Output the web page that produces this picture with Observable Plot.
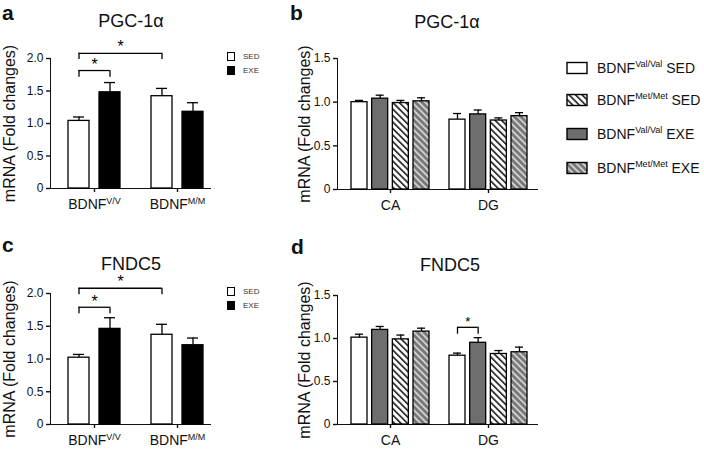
<!DOCTYPE html>
<html><head><meta charset="utf-8">
<script src="https://cdn.jsdelivr.net/npm/d3@7"></script>
<script src="https://cdn.jsdelivr.net/npm/@observablehq/plot@0.6"></script>
<style>
body{margin:0;background:#fff;}
#fig{position:relative;width:704px;height:450px;font-family:"Liberation Sans",Arial,sans-serif;color:#111;overflow:hidden;background:#fff}
.abs{position:absolute;white-space:nowrap}
.title{font-size:18px;text-align:center;width:140px;line-height:18px}
.letter{font-size:21px;font-weight:bold;line-height:21px}
.mini{font-size:8px;color:#333;line-height:8px}
.leg{font-size:14px;line-height:14px;color:#111}
.leg sup{font-size:9px;vertical-align:6px;line-height:0}
#fig svg.plot{position:absolute;overflow:visible}
#fig svg.plot g[aria-label="y-axis label"] text{font-size:16px}
#fig svg.plot g[aria-label="x-axis tick label"] text{font-size:14px}
#fig svg.plot g[aria-label*="axis"] path,#fig svg.plot g[aria-label*="axis"] line{stroke-width:1.4}
</style></head><body><div id="fig"></div>
<script>
// ---------- data ----------
const genotypes = ["V/V", "M/M"];                 // panels a, c categories (BDNF genotype)
const regions = ["CA", "DG"];                     // panels b, d categories
const yTicksA = [0, 0.5, 1.0, 1.5, 2.0];
const yTicksB = [0, 0.5, 1.0, 1.5];

// panel a: PGC-1α by genotype
const pgcA_SED = [1.04, 1.42];
const pgcA_SED_err = [0.06, 0.12];
const pgcA_EXE = [1.48, 1.18];
const pgcA_EXE_err = [0.15, 0.14];
// panel c: FNDC5 by genotype
const fndcA_SED = [1.02, 1.37];
const fndcA_SED_err = [0.05, 0.16];
const fndcA_EXE = [1.46, 1.21];
const fndcA_EXE_err = [0.17, 0.11];

// panel b: PGC-1α by region (CA, DG)
const pgcB_ValSED = [1.00, 0.80];
const pgcB_ValSED_err = [0.02, 0.07];
const pgcB_ValEXE = [1.04, 0.86];
const pgcB_ValEXE_err = [0.04, 0.05];
const pgcB_MetSED = [0.99, 0.79];
const pgcB_MetSED_err = [0.03, 0.03];
const pgcB_MetEXE = [1.01, 0.84];
const pgcB_MetEXE_err = [0.04, 0.04];
// panel d: FNDC5 by region
const fndcB_ValSED = [1.01, 0.80];
const fndcB_ValSED_err = [0.04, 0.03];
const fndcB_ValEXE = [1.10, 0.95];
const fndcB_ValEXE_err = [0.04, 0.06];
const fndcB_MetSED = [0.99, 0.82];
const fndcB_MetSED_err = [0.05, 0.04];
const fndcB_MetEXE = [1.08, 0.84];
const fndcB_MetEXE_err = [0.04, 0.06];

// significance brackets: [category1, bar1, category2, bar2, legBottom, top, starY]
const sigA = [["V/V", 0, "V/V", 1, 1.71, 1.815, 1.90], ["V/V", 0, "M/M", 0, 1.985, 2.08, 2.18]];
const sigC = [["V/V", 0, "V/V", 1, 1.69, 1.79, 1.87], ["V/V", 0, "M/M", 0, 1.98, 2.08, 2.17]];
const sigD = [["DG", 0, "DG", 1, 1.05, 1.13, 1.19]];

const legendLabels = [["Val/Val", "SED"], ["Met/Met", "SED"], ["Val/Val", "EXE"], ["Met/Met", "EXE"]];
const miniLegend = ["SED", "EXE"];

// ---------- styles ----------
const FONT = '"Liberation Sans", Arial, sans-serif';
const DARK = "#6e6e6e";
const fig = document.getElementById("fig");

// hatch patterns
const defs = d3.select(fig).append("svg").attr("width", 0).attr("height", 0)
  .style("position", "absolute").append("defs");
function hatch(id, bg, fg, sw) {
  const P = 4.6;
  const p = defs.append("pattern").attr("id", id).attr("patternUnits", "userSpaceOnUse")
    .attr("width", P).attr("height", P).attr("patternTransform", "rotate(-45)");
  p.append("rect").attr("width", P).attr("height", P).attr("fill", bg);
  p.append("rect").attr("width", sw).attr("height", P).attr("fill", fg);
}
hatch("hatchW", "#ffffff", "#1a1a1a", 1.6);
hatch("hatchG", "#767676", "#cfcfcf", 1.9);

function panel(cfg) {
  const {cats, series, geom, brackets} = cfg;
  const n = series.length;
  const gap = (geom.W - n * geom.bw) / (n - 1);
  const step = geom.bw + gap;
  const center = k => k * step + geom.bw / 2;
  const R = cfg.width - cfg.marginLeft - cfg.marginRight;
  const outerTotal = R - (cats.length * geom.S - (geom.S - geom.W));
  const marks = [];
  series.forEach((s, k) => {
    const rows = cats.map((c, i) => ({cat: c, value: s.values[i], top: s.values[i] + s.errs[i]}));
    marks.push(Plot.ruleX(rows, {x: "cat", y1: "value", y2: "top", dx: center(k) - geom.W / 2, stroke: "#000", strokeWidth: 1.3}));
    marks.push(Plot.barY(rows, {x: "cat", y: "value", insetLeft: k * step, insetRight: (n - 1 - k) * step, fill: s.fill, stroke: "#000", strokeWidth: 1.3}));
    marks.push(Plot.tickY(rows, {x: "cat", y: "top", insetLeft: center(k) - geom.cap / 2, insetRight: geom.W - center(k) - geom.cap / 2, stroke: "#000", strokeWidth: 1.3}));
  });
  (brackets || []).forEach(b => {
    const [c1, k1, c2, k2, yLeg, yTop, yStar] = b;
    const d = [{c1, c2, yLeg, yTop, yStar}];
    const x2off = (cats.indexOf(c2) - cats.indexOf(c1)) * geom.S + center(k2);
    marks.push(Plot.ruleY(d, {x1: "c1", x2: "c2", y: "yTop", insetLeft: center(k1), insetRight: geom.W - center(k2), stroke: "#000", strokeWidth: 1.3}));
    marks.push(Plot.ruleX(d, {x: "c1", y1: "yLeg", y2: "yTop", dx: center(k1) - geom.W / 2, stroke: "#000", strokeWidth: 1.3}));
    marks.push(Plot.ruleX(d, {x: "c2", y1: "yLeg", y2: "yTop", dx: center(k2) - geom.W / 2, stroke: "#000", strokeWidth: 1.3}));
    marks.push(Plot.text(d, {x: "c1", y: "yStar", text: () => "*", dx: (center(k1) + x2off) / 2 - geom.W / 2, fontSize: cfg.starSize, fill: "#000"}));
  });
  const svg = Plot.plot({
    width: cfg.width, height: cfg.height,
    marginLeft: cfg.marginLeft, marginRight: cfg.marginRight, marginTop: cfg.marginTop, marginBottom: cfg.marginBottom,
    style: {fontFamily: FONT, fontSize: "12px", color: "#111", background: "transparent", overflow: "visible"},
    x: {type: "band", domain: cats, paddingInner: (geom.S - geom.W) / geom.S, paddingOuter: outerTotal / 2 / geom.S,
        align: geom.L / outerTotal, round: false, tickSize: 4, tickPadding: 7, label: null, line: true,
        tickFormat: cfg.xfmt},
    y: {domain: cfg.yDomain, ticks: cfg.yTicks, tickFormat: d => d === 0 ? "0" : d.toFixed(1), tickSize: 4, tickPadding: 3,
        line: true, label: "mRNA (Fold changes)", labelAnchor: "center", labelArrow: "none", labelOffset: cfg.labelOffset},
    marks
  });
  svg.classList.add("plot");
  svg.style.left = cfg.left + "px";
  svg.style.top = cfg.top + "px";
  fig.appendChild(svg);
  // remove any stray arrow-only label text
  svg.querySelectorAll("text").forEach(t => { if (t.textContent.trim() === "↑") t.remove(); });
  // superscripts in x tick labels
  svg.querySelectorAll('g[aria-label="x-axis tick label"] text').forEach(t => {
    const s = t.textContent;
    if (s.includes("|")) {
      const [base, sup] = s.split("|");
      t.textContent = "";
      const a = document.createElementNS("http://www.w3.org/2000/svg", "tspan");
      a.textContent = base; t.appendChild(a);
      const b2 = document.createElementNS("http://www.w3.org/2000/svg", "tspan");
      b2.textContent = sup; b2.setAttribute("font-size", "9px"); b2.setAttribute("dy", "-5"); t.appendChild(b2);
    }
  });
  return svg;
}

const geomA = {L: 18, W: 52, S: 83, bw: 21, cap: 11};
const geomB = {L: 14, W: 78, S: 98, bw: 16, cap: 8};
const fmtA = d => "BDNF|" + d;

panel({left: 0, top: 0, width: 260, height: 215, marginLeft: 50, marginRight: 50, marginTop: 58, marginBottom: 27,
  cats: genotypes, geom: geomA, yDomain: [0, 2], yTicks: yTicksA, xfmt: fmtA, labelOffset: 47, starSize: 16, brackets: sigA,
  series: [{values: pgcA_SED, errs: pgcA_SED_err, fill: "#fff"}, {values: pgcA_EXE, errs: pgcA_EXE_err, fill: "#000"}]});
panel({left: 0, top: 215, width: 260, height: 235, marginLeft: 50, marginRight: 50, marginTop: 78, marginBottom: 26,
  cats: genotypes, geom: geomA, yDomain: [0, 2], yTicks: yTicksA, xfmt: fmtA, labelOffset: 47, starSize: 16, brackets: sigC,
  series: [{values: fndcA_SED, errs: fndcA_SED_err, fill: "#fff"}, {values: fndcA_EXE, errs: fndcA_EXE_err, fill: "#000"}]});
panel({left: 250, top: 0, width: 300, height: 215, marginLeft: 87, marginRight: 13, marginTop: 58, marginBottom: 26,
  cats: regions, geom: geomB, yDomain: [0, 1.5], yTicks: yTicksB, xfmt: d => d, labelOffset: 39, starSize: 13,
  series: [{values: pgcB_ValSED, errs: pgcB_ValSED_err, fill: "#fff"}, {values: pgcB_ValEXE, errs: pgcB_ValEXE_err, fill: DARK},
           {values: pgcB_MetSED, errs: pgcB_MetSED_err, fill: "url(#hatchW)"}, {values: pgcB_MetEXE, errs: pgcB_MetEXE_err, fill: "url(#hatchG)"}]});
panel({left: 250, top: 215, width: 300, height: 235, marginLeft: 87, marginRight: 13, marginTop: 80, marginBottom: 26,
  cats: regions, geom: geomB, yDomain: [0, 1.5], yTicks: yTicksB, xfmt: d => d, labelOffset: 39, starSize: 13, brackets: sigD,
  series: [{values: fndcB_ValSED, errs: fndcB_ValSED_err, fill: "#fff"}, {values: fndcB_ValEXE, errs: fndcB_ValEXE_err, fill: DARK},
           {values: fndcB_MetSED, errs: fndcB_MetSED_err, fill: "url(#hatchW)"}, {values: fndcB_MetEXE, errs: fndcB_MetEXE_err, fill: "url(#hatchG)"}]});

// ---------- HTML text: letters, titles, legends ----------
function div(cls, left, top, html, extra) {
  const e = document.createElement("div");
  e.className = "abs " + cls;
  e.style.left = left + "px"; e.style.top = top + "px";
  e.innerHTML = html;
  if (extra) Object.assign(e.style, extra);
  fig.appendChild(e);
  return e;
}
div("letter", 2, 2, "a"); div("letter", 290, 2, "b");
div("letter", 2, 234, "c"); div("letter", 291, 236, "d");
div("title", 131 - 70, 12, "PGC-1α"); div("title", 447 - 70, 13, "PGC-1α");
div("title", 131 - 70, 255, "FNDC5"); div("title", 450 - 70, 256, "FNDC5");

// mini legends (panels a, c)
[52, 287].forEach(y0 => {
  miniLegend.forEach((lab, i) => {
    const y = y0 + i * 14;
    div("", 227, y, "", {width: "6px", height: "7px", border: "1.3px solid #000", background: i === 0 ? "#fff" : "#000"});
    div("mini", 243, y + 1, lab);
  });
});

// main legend (right)
const swFill = ["#fff", "url(#hatchW)", DARK, "url(#hatchG)"];
const rowY = [68, 100, 134, 168];
legendLabels.forEach(([g, t], i) => {
  const s = document.createElementNS("http://www.w3.org/2000/svg", "svg");
  s.setAttribute("width", 24); s.setAttribute("height", 15);
  s.style.position = "absolute"; s.style.left = "566px"; s.style.top = (rowY[i] - 7) + "px";
  const r = document.createElementNS("http://www.w3.org/2000/svg", "rect");
  r.setAttribute("x", 1); r.setAttribute("y", 1.5); r.setAttribute("width", 20); r.setAttribute("height", 11);
  r.setAttribute("fill", swFill[i]); r.setAttribute("stroke", "#000"); r.setAttribute("stroke-width", 1.4);
  s.appendChild(r); fig.appendChild(s);
  div("leg", 597, rowY[i] - 7, `BDNF<sup>${g}</sup> ${t}`);
});
</script></body></html>
